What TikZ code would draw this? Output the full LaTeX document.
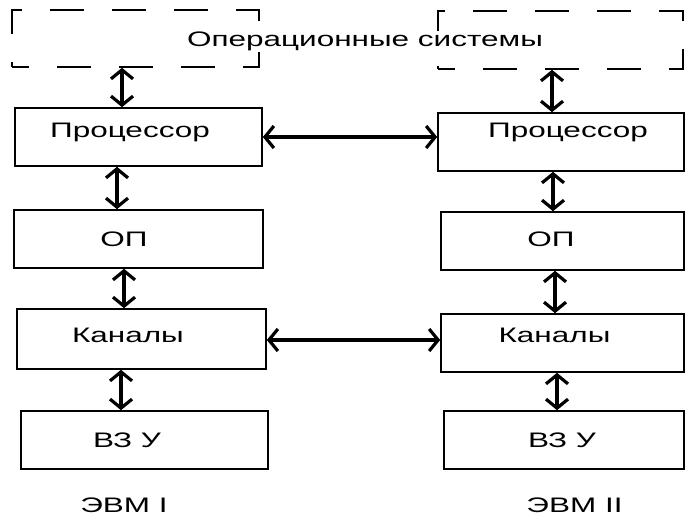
\documentclass[tikz,border=0pt]{standalone}
\usepackage{fontspec}
\setmainfont[FakeStretch=1.5]{Liberation Sans}
\usetikzlibrary{arrows.meta}

\tikzset{
	blok/.style={draw,line width=1.6pt,minimum width=247pt,minimum height=58pt,inner sep=0pt},
	ossys/.style={blok,dash pattern=on 34pt off 28pt,dash phase=17pt},
	txt/.style={font=\fontsize{21}{24}\selectfont,inner sep=1pt,anchor=base},
	svyaz/.style={line width=3.8pt,{Straight Barb[length=9pt,width=22pt,line width=3.2pt]}-{Straight Barb[length=9pt,width=22pt,line width=3.2pt]}}
}

\begin{document}
\begin{tikzpicture}[x=1pt,y=-1pt]
	\useasboundingbox (0,0) rectangle (685,516);
	% EVM I
	\node[ossys,minimum height=57pt] (osL) at (135.5,38.5) {};
	\node[blok] (procL) at (138.5,137) {};
	\node[blok,minimum width=249pt] (opL) at (138.5,239) {};
	\node[blok,minimum width=249pt,minimum height=60pt] (kanL) at (141.5,339) {};
	\node[blok] (vzuL) at (144.5,440) {};
	% EVM II
	\node[ossys,minimum width=245pt] (osR) at (560.5,40) {};
	\node[blok,minimum width=246pt] (procR) at (561,142) {};
	\node[blok,minimum width=243pt] (opR) at (562.5,241) {};
	\node[blok,minimum width=243pt] (kanR) at (562.5,343) {};
	\node[blok,minimum width=240pt] (vzuR) at (564,440) {};
	% texts
	\node[txt,fill=white] (ost) at (365,47) {Операционные системы};
	\node[txt] (procLt) at (130,138) {Процессор};
	\node[txt] (procRt) at (568,138) {Процессор};
	\node[txt] (opLt) at (124,246) {ОП};
	\node[txt] (opRt) at (551,246) {ОП};
	\node[txt] (kanLt) at (128,342) {Каналы};
	\node[txt] (kanRt) at (554.5,342) {Каналы};
	\node[txt] (vzuLt) at (127,447) {ВЗ У};
	\node[txt] (vzuRt) at (562,447) {ВЗ У};
	\node[txt] (evm1) at (124,512) {ЭВМ I};
	\node[txt] (evm2) at (574.5,512) {ЭВМ II};
	% links
	\draw[svyaz] (122,0 |- osL.south) -- (122,0 |- procL.north);
	\draw[svyaz] (117,0 |- procL.south) -- (117,0 |- opL.north);
	\draw[svyaz] (124,0 |- opL.south) -- (124,0 |- kanL.north);
	\draw[svyaz] (121,0 |- kanL.south) -- (121,0 |- vzuL.north);
	\draw[svyaz] (552,0 |- osR.south) -- (552,0 |- procR.north);
	\draw[svyaz] (553,0 |- procR.south) -- (553,0 |- opR.north);
	\draw[svyaz] (555,0 |- opR.south) -- (555,0 |- kanR.north);
	\draw[svyaz] (557,0 |- kanR.south) -- (557,0 |- vzuR.north);
	\draw[svyaz] (procL.east |- 0,137) -- (procR.west |- 0,137);
	\draw[svyaz] (kanL.east |- 0,340) -- (kanR.west |- 0,340);
\end{tikzpicture}
\end{document}
